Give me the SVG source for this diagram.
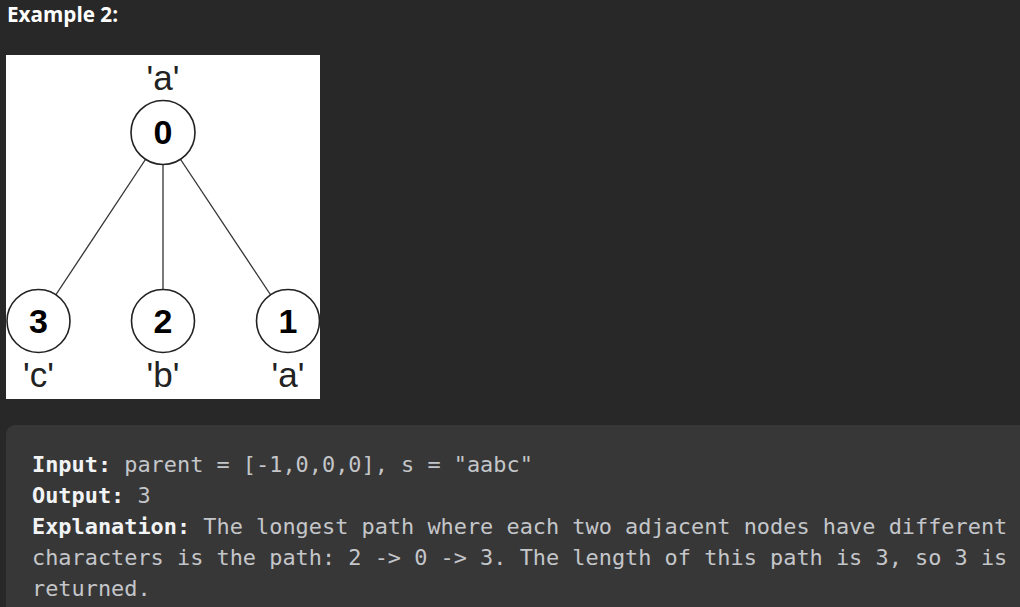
<svg xmlns="http://www.w3.org/2000/svg" width="1020" height="607" viewBox="0 0 1020 607">
<style>
.edge{stroke:#333;stroke-width:1.3;fill:none}
.node circle{fill:#fff;stroke:#222;stroke-width:1.6}
.num{font-family:"Liberation Sans",Arial,sans-serif;font-weight:bold;font-size:34px;fill:#000;text-anchor:middle}
.lbl{font-family:"Liberation Sans",Arial,sans-serif;font-size:35px;fill:#222;text-anchor:middle}
.mono{font-family:"DejaVu Sans Mono","Liberation Mono",monospace;font-size:21.9px;fill:#c4c6ca}
.b{font-weight:bold;fill:#f2f3f5}
</style>
<rect x="0" y="0" width="1020" height="607" fill="#282828"/>
<text x="7" y="22" font-family="Open Sans, sans-serif" font-weight="bold" font-size="20.7" fill="#ffffff">Example 2:</text>
<rect x="6" y="55" width="314" height="344" fill="#ffffff"/>
<g id="connectors">
<line class="edge" x1="163" y1="133" x2="38.5" y2="321"/>
<line class="edge" x1="163" y1="133" x2="163" y2="321"/>
<line class="edge" x1="163" y1="133" x2="288" y2="321"/>
</g>
<g id="node0" class="node"><circle cx="163" cy="132.5" r="32"/><text class="num" x="163" y="144">0</text><text class="lbl" x="163" y="90">'a'</text></g>
<g id="node3" class="node"><circle cx="38.5" cy="321" r="31.5"/><text class="num" x="38.5" y="333">3</text><text class="lbl" x="38.5" y="387">'c'</text></g>
<g id="node2" class="node"><circle cx="163" cy="321" r="31.5"/><text class="num" x="163" y="333">2</text><text class="lbl" x="163" y="387">'b'</text></g>
<g id="node1" class="node"><circle cx="288" cy="321" r="31.5"/><text class="num" x="288" y="333">1</text><text class="lbl" x="288" y="387">'a'</text></g>
<rect x="6" y="425" width="1030" height="200" rx="9" fill="#373737"/>
<text class="mono" x="32" y="472"><tspan class="b">Input:</tspan> parent = [-1,0,0,0], s = "aabc"</text>
<text class="mono" x="32" y="503"><tspan class="b">Output:</tspan> 3</text>
<text class="mono" x="32" y="534"><tspan class="b">Explanation:</tspan> The longest path where each two adjacent nodes have different</text>
<text class="mono" x="32" y="565">characters is the path: 2 -&gt; 0 -&gt; 3. The length of this path is 3, so 3 is</text>
<text class="mono" x="32" y="596">returned.</text>
</svg>
